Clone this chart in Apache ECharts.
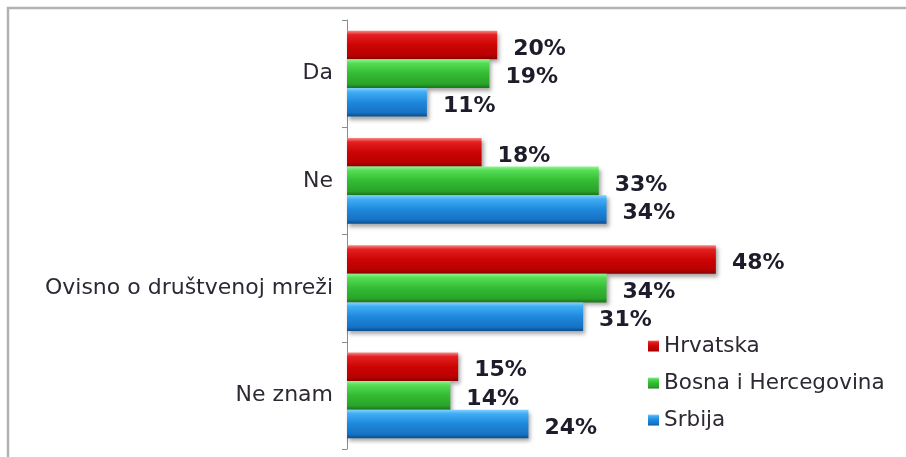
<!DOCTYPE html>
<html>
<head>
<meta charset="utf-8">
<script src="https://cdn.jsdelivr.net/npm/echarts@6/dist/echarts.min.js"></script>
<style>
  html, body { margin: 0; padding: 0; background: #fff; }
  #chart { width: 906px; height: 457px; }
</style>
</head>
<body>
<div id="chart"></div>
<script>
// Survey answers, top to bottom
const categories = ['Da', 'Ne', 'Ovisno o društvenoj mreži', 'Ne znam'];
const seriesNames = ['Hrvatska', 'Bosna i Hercegovina', 'Srbija'];
const hrvatska = [20, 18, 48, 15];
const bih = [19, 33, 34, 14];
const srbija = [11, 34, 31, 24];

// Vertical gradients give each bar a rounded, bevelled look
function tube(light, mid, main, dark, edge) {
  return new echarts.graphic.LinearGradient(0, 0, 0, 1, [
    { offset: 0, color: light },
    { offset: 0.14, color: mid },
    { offset: 0.5, color: main },
    { offset: 0.86, color: dark },
    { offset: 1, color: edge }
  ]);
}
const fills = [
  tube('#f58a8a', '#e42020', '#cc0404', '#b80000', '#870000'),
  tube('#8ef58e', '#55dc55', '#33bb33', '#2aa42a', '#1a741a'),
  tube('#86d2ff', '#40aef5', '#1e88dc', '#1672c4', '#0c4d8a')
];

const chart = echarts.init(document.getElementById('chart'), null, { renderer: 'canvas' });

const valueLabel = {
  show: true,
  position: 'right',
  distance: 16,
  offset: [0, 4],
  formatter: '{c}%',
  fontFamily: 'DejaVu Sans',
  fontWeight: 'bold',
  fontSize: 22,
  color: '#1c1c2a'
};

function makeSeries(name, data, fill) {
  return {
    name: name,
    type: 'bar',
    data: data,
    barGap: '0%',
    barCategoryGap: '20%',
    itemStyle: {
      color: fill,
      shadowColor: 'rgba(0,0,0,0.35)',
      shadowBlur: 4,
      shadowOffsetX: 2,
      shadowOffsetY: 3
    },
    label: valueLabel
  };
}

chart.setOption({
  animation: false,
  backgroundColor: '#ffffff',
  graphic: [{
    type: 'rect',
    silent: true,
    shape: { x: 8, y: 8, width: 1200, height: 1200 },
    style: { fill: 'none', stroke: '#b2b2b2', lineWidth: 2.5 }
  }],
  grid: { left: 347, right: 96.4, top: 20, bottom: 8, containLabel: false },
  xAxis: {
    type: 'value',
    min: 0.77,
    max: 60,
    show: false
  },
  yAxis: {
    type: 'category',
    data: categories,
    inverse: true,
    axisLine: { show: true, lineStyle: { color: '#8c8c8c', width: 1 } },
    axisTick: { show: true, length: 5, alignWithLabel: false, lineStyle: { color: '#8c8c8c' } },
    axisLabel: {
      margin: 14,
      fontFamily: 'DejaVu Sans',
      fontSize: 22,
      color: '#2e2833'
    },
    splitLine: { show: false }
  },
  legend: {
    orient: 'vertical',
    left: 648,
    top: 335,
    padding: 0,
    itemWidth: 11,
    itemHeight: 11,
    itemGap: 15,
    icon: 'rect',
    data: seriesNames,
    textStyle: { fontFamily: 'DejaVu Sans', fontSize: 21.5, color: '#2e2833' }
  },
  series: [
    makeSeries(seriesNames[0], hrvatska, fills[0]),
    makeSeries(seriesNames[1], bih, fills[1]),
    makeSeries(seriesNames[2], srbija, fills[2])
  ]
});
</script>
</body>
</html>
